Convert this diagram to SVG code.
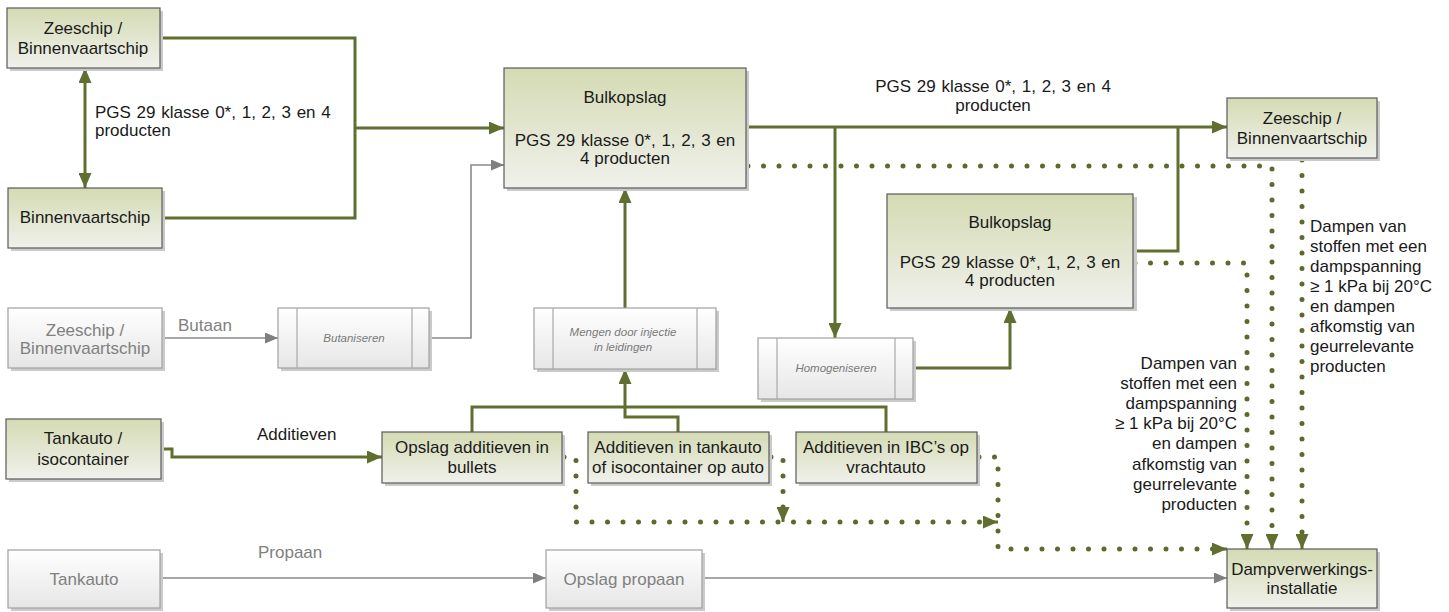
<svg xmlns="http://www.w3.org/2000/svg" width="1449" height="612" viewBox="0 0 1449 612">
<defs>
<linearGradient id="gG" x1="0" y1="0" x2="0" y2="1"><stop offset="0" stop-color="#d4dbb3"/><stop offset="1" stop-color="#f0f1ec"/></linearGradient>
<linearGradient id="gW" x1="0" y1="0" x2="0" y2="1"><stop offset="0" stop-color="#ffffff"/><stop offset="1" stop-color="#e6e6e6"/></linearGradient>
<marker id="ag" markerUnits="userSpaceOnUse" markerWidth="15" markerHeight="13" refX="15" refY="6.5" orient="auto-start-reverse"><path d="M0,0 L15,6.5 L0,13 z" fill="#606e2f"/></marker>
<marker id="ay" markerUnits="userSpaceOnUse" markerWidth="13" markerHeight="11" refX="13" refY="5.5" orient="auto"><path d="M0,0 L13,5.5 L0,11 z" fill="#7f7f7f"/></marker>
</defs>
<style>
.t{font-family:"Liberation Sans",Arial,sans-serif;font-size:17px;fill:#1a1a1a;text-anchor:middle}
.ti{font-family:"Liberation Sans",Arial,sans-serif;font-size:11.5px;font-style:italic;fill:#7a7a7a;text-anchor:middle}
.l{font-family:"Liberation Sans",Arial,sans-serif;font-size:17px;fill:#1a1a1a}
.ws{word-spacing:1px}
text.tg{fill:#808080}
.sh{fill:#cacaca}
.ng{fill:url(#gG);stroke:#5a5a5a;stroke-width:1.2}
.nw{fill:url(#gW);stroke:#a0a0a0;stroke-width:1.2}
.pl{stroke:#a8a8a8;stroke-width:1.2}
.cg{fill:none;stroke:#606e2f;stroke-width:3}
.cy{fill:none;stroke:#8a8a8a;stroke-width:1.6}
.cd{fill:none;stroke:#5c6a2c;stroke-width:5;stroke-linecap:round;stroke-dasharray:0 15.5}
</style>

<g id="connectors">
<path class="cg" d="M160,38 H355 V218 H162"/>
<path class="cg" d="M355,128 H504" marker-end="url(#ag)"/>
<path class="cg" d="M85,68 V188" marker-start="url(#ag)" marker-end="url(#ag)"/>
<path class="cg" d="M746,127 H1227" marker-end="url(#ag)"/>
<path class="cg" d="M835,127 V338" marker-end="url(#ag)"/>
<path class="cg" d="M1133,251 H1178 V127"/>
<path class="cg" d="M913,368 H1010 V308" marker-end="url(#ag)"/>
<path class="cg" d="M625,308 V188" marker-end="url(#ag)"/>
<path class="cg" d="M472,432 V407 H886 V432"/>
<path class="cg" d="M678,432 V417 H625 V369" marker-end="url(#ag)"/>
<path class="cg" d="M161,449 H172 V457 H382" marker-end="url(#ag)"/>
<path class="cy" d="M162,338 H278" marker-end="url(#ay)"/>
<path class="cy" d="M429,338 H471 V165 H504" marker-end="url(#ay)"/>
<path class="cy" d="M160,578 H546" marker-end="url(#ay)"/>
<path class="cy" d="M702,578 H1227" marker-end="url(#ay)"/>
<path class="cd" d="M748,166 H1272 V535"/>
<path class="cd" d="M1135,263 H1247 V535"/>
<path class="cd" d="M1302,160 V535"/>
<path class="cd" d="M564,457 H576 V522 H985"/>
<path class="cd" d="M771,457 H783 V510"/>
<path class="cd" d="M979,457 H998 V549 H1213"/>
<path class="cg" d="M1272,540 V549" stroke-width="0" marker-end="url(#ag)"/>
<path class="cg" d="M1247,540 V549" stroke-width="0" marker-end="url(#ag)"/>
<path class="cg" d="M1302,540 V549" stroke-width="0" marker-end="url(#ag)"/>
<path class="cg" d="M990,522 H998" stroke-width="0" marker-end="url(#ag)"/>
<path class="cg" d="M783,514 V522" stroke-width="0" marker-end="url(#ag)"/>
<path class="cg" d="M1218,549 H1227" stroke-width="0" marker-end="url(#ag)"/>
<text class="l ws" x="95" y="118">PGS 29 klasse 0*, 1, 2, 3 en 4</text>
<text class="l" x="95" y="136">producten</text>
<text class="t ws" x="993" y="92">PGS 29 klasse 0*, 1, 2, 3 en 4</text>
<text class="t" x="993" y="111">producten</text>
<text class="l tg" x="178" y="331">Butaan</text>
<text class="l" x="257" y="440">Additieven</text>
<text class="l tg" x="258" y="558">Propaan</text>
<g class="l">
<text x="1310" y="232">Dampen van</text>
<text x="1310" y="252">stoffen met een</text>
<text x="1310" y="272">dampspanning</text>
<text x="1310" y="292">≥ 1 kPa bij  20°C</text>
<text x="1310" y="312">en dampen</text>
<text x="1310" y="332">afkomstig van</text>
<text x="1310" y="352">geurrelevante</text>
<text x="1310" y="372">producten</text>
</g>
<g class="l" text-anchor="end">
<text x="1237" y="369">Dampen van</text>
<text x="1237" y="389">stoffen met een</text>
<text x="1237" y="409">dampspanning</text>
<text x="1237" y="429">≥ 1 kPa bij  20°C</text>
<text x="1237" y="449">en dampen</text>
<text x="1237" y="470">afkomstig van</text>
<text x="1237" y="490">geurrelevante</text>
<text x="1237" y="510">producten</text>
</g>
</g>

<g id="n-zeeschip1"><rect class="sh" x="10" y="11" width="153" height="60"/><rect class="ng" x="7" y="8" width="153" height="60"/><text class="t" x="83" y="34">Zeeschip /</text><text class="t" x="83" y="54">Binnenvaartschip</text></g>
<g id="n-binnenvaart"><rect class="sh" x="11" y="191" width="154" height="60"/><rect class="ng" x="8" y="188" width="154" height="60"/><text class="t" x="85" y="223">Binnenvaartschip</text></g>
<g id="n-bulk1"><rect class="sh" x="507" y="71" width="242" height="120"/><rect class="ng" x="504" y="68" width="242" height="120"/><text class="t" x="625" y="103">Bulkopslag</text><text class="t ws" x="625" y="146">PGS 29 klasse 0*, 1, 2, 3 en</text><text class="t" x="625" y="164">4 producten</text></g>
<g id="n-zeeschip2"><rect class="sh" x="1230" y="101" width="150" height="60"/><rect class="ng" x="1227" y="98" width="150" height="60"/><text class="t" x="1302" y="124">Zeeschip /</text><text class="t" x="1302" y="144">Binnenvaartschip</text></g>
<g id="n-bulk2"><rect class="sh" x="890" y="197" width="247" height="114"/><rect class="ng" x="887" y="194" width="246" height="114"/><text class="t" x="1010" y="228">Bulkopslag</text><text class="t ws" x="1010" y="268">PGS 29 klasse 0*, 1, 2, 3 en</text><text class="t" x="1010" y="286">4 producten</text></g>
<g id="n-zeeschip3"><rect class="sh" x="11" y="311" width="154" height="60"/><rect class="nw" x="8" y="308" width="154" height="60"/><text class="t tg" x="85" y="336">Zeeschip /</text><text class="t tg" x="85" y="354">Binnenvaartschip</text></g>
<g id="n-butaniseren"><rect class="sh" x="281" y="311" width="151" height="60"/><rect class="nw" x="278" y="308" width="151" height="60"/><line class="pl" x1="297" y1="308" x2="297" y2="368"/><line class="pl" x1="412" y1="308" x2="412" y2="368"/><text class="ti" x="354" y="342">Butaniseren</text></g>
<g id="n-mengen"><rect class="sh" x="537" y="311" width="182" height="61"/><rect class="nw" x="534" y="308" width="182" height="61"/><line class="pl" x1="553" y1="308" x2="553" y2="369"/><line class="pl" x1="697" y1="308" x2="697" y2="369"/><text class="ti" x="623" y="336">Mengen door injectie</text><text class="ti" x="623" y="351">in leidingen</text></g>
<g id="n-homogeniseren"><rect class="sh" x="761" y="341" width="155" height="61"/><rect class="nw" x="758" y="338" width="155" height="61"/><line class="pl" x1="777" y1="338" x2="777" y2="399"/><line class="pl" x1="895" y1="338" x2="895" y2="399"/><text class="ti" x="836" y="372">Homogeniseren</text></g>
<g id="n-tankauto-iso"><rect class="sh" x="9" y="422" width="155" height="60"/><rect class="ng" x="6" y="419" width="155" height="60"/><text class="t" x="83" y="444">Tankauto /</text><text class="t" x="83" y="465">isocontainer</text></g>
<g id="n-opslag-add"><rect class="sh" x="385" y="435" width="180" height="51"/><rect class="ng" x="382" y="432" width="180" height="51"/><text class="t" x="472" y="453">Opslag additieven in</text><text class="t" x="472" y="473">bullets</text></g>
<g id="n-add-tankauto"><rect class="sh" x="591" y="435" width="181" height="51"/><rect class="ng" x="588" y="432" width="181" height="51"/><text class="t" x="678" y="453">Additieven in tankauto</text><text class="t" x="678" y="473">of isocontainer op auto</text></g>
<g id="n-add-ibc"><rect class="sh" x="799" y="435" width="181" height="51"/><rect class="ng" x="796" y="432" width="181" height="51"/><text class="t" x="886" y="453">Additieven in IBC’s op</text><text class="t" x="886" y="473">vrachtauto</text></g>
<g id="n-tankauto"><rect class="sh" x="11" y="553" width="152" height="58"/><rect class="nw" x="8" y="550" width="152" height="58"/><text class="t tg" x="84" y="585">Tankauto</text></g>
<g id="n-opslag-propaan"><rect class="sh" x="549" y="553" width="156" height="58"/><rect class="nw" x="546" y="550" width="156" height="58"/><text class="t tg" x="624" y="585">Opslag propaan</text></g>
<g id="n-damp"><rect class="sh" x="1230" y="552" width="150" height="59"/><rect class="ng" x="1227" y="549" width="150" height="59"/><text class="t" x="1302" y="575">Dampverwerkings-</text><text class="t" x="1302" y="594">installatie</text></g>
</svg>
